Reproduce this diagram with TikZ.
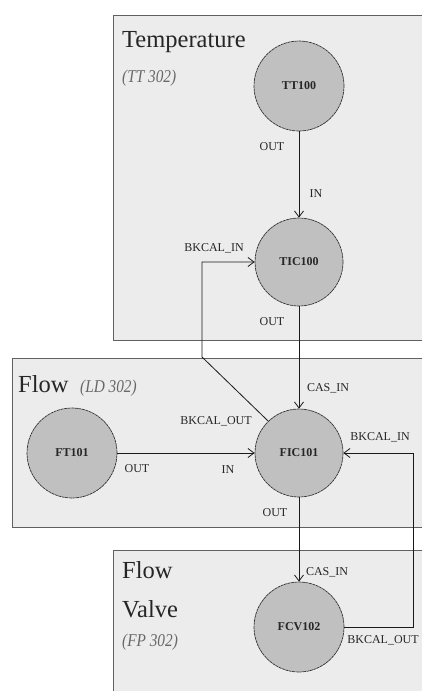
\documentclass[tikz,border=0pt]{standalone}
\usepackage{fontspec}
\setmainfont{Liberation Serif}
\usetikzlibrary{arrows.meta}
\definecolor{boxfill}{HTML}{ECECEC}
\definecolor{boxline}{HTML}{606060}
\definecolor{circfill}{HTML}{C0C0C0}
\definecolor{titlecol}{HTML}{262626}
\definecolor{subcol}{HTML}{686868}
\tikzset{
  group/.style={draw=boxline, fill=boxfill, line width=0.9pt},
  block/.style={circle, draw=black!80, fill=circfill, line width=0.7pt, dash pattern=on 3pt off 0.6pt, minimum size=90pt, inner sep=0pt, font=\fontsize{12}{13}\selectfont\bfseries, text=black!85},
  title/.style={anchor=base west, inner sep=0pt, text=titlecol, font=\fontsize{24.5}{26}\selectfont},
  subtitle/.style={anchor=base west, inner sep=0pt, text=subcol, font=\fontsize{18}{19}\selectfont\itshape\addfontfeature{FakeStretch=0.85}},
  port/.style={inner sep=0pt, text=black!85, font=\fontsize{12}{13}\selectfont},
  link/.style={draw=black!90, line width=0.8pt, -{Straight Barb[length=6pt,width=9pt]}},
}
\begin{document}
\begin{tikzpicture}[x=1pt,y=-1pt]
\useasboundingbox (0,0) rectangle (422,691);
\clip (0,0) rectangle (422,691);
\fill[white] (0,0) rectangle (422,691);
% groups
\draw[group] (113,15) rectangle (430,340);
\draw[group] (12,358) rectangle (430,527);
\draw[group] (113,550) rectangle (430,700);
% titles
\node[title] (tTemp) at (122,47) {Temperature};
\node[subtitle] (sTemp) at (122,82) {(TT 302)};
\node[title] (tFlow) at (18,392) {Flow};
\node[subtitle] (sFlow) at (80,392) {(LD 302)};
\node[title] (tFlowV1) at (122,578) {Flow};
\node[title] (tFlowV2) at (122,617) {Valve};
\node[subtitle] (sFlowV) at (122,646) {(FP 302)};
% blocks
\node[block] (TT100) at (299,86) {TT100};
\node[block, minimum size=88pt] (TIC100) at (299,262) {TIC100};
\node[block] (FT101) at (72,453) {FT101};
\node[block, minimum size=88pt] (FIC101) at (299,453) {FIC101};
\node[block] (FCV102) at (299,627) {FCV102};
% helper coordinates
\coordinate (b1) at (202,357);
\coordinate (b2) at (413,627);
% links
\draw[link] (TT100.south) -- (TIC100.north);
\draw[link] (TIC100.south) -- (FIC101.north);
\draw[link] (FT101.east) -- (FIC101.west);
\draw[link] (FIC101.south) -- (FCV102.north);
\draw[link] (FIC101.134) -- (b1) |- (TIC100.west);
\draw[link] (FCV102.east) -- (b2) |- (FIC101.east);
% port labels
\node[port] (p1) at (272,147) {OUT};
\node[port] (p2) at (316,194) {IN};
\node[port] (p3) at (214,248) {BKCAL\_IN};
\node[port] (p4) at (272,322) {OUT};
\node[port] (p5) at (328,388) {CAS\_IN};
\node[port] (p6) at (216,421) {BKCAL\_OUT};
\node[port] (p7) at (380,437) {BKCAL\_IN};
\node[port] (p8) at (137,469) {OUT};
\node[port] (p9) at (228,470) {IN};
\node[port] (p10) at (275,513) {OUT};
\node[port] (p11) at (327,572) {CAS\_IN};
\node[port] (p12) at (383,640) {BKCAL\_OUT};
\end{tikzpicture}
\end{document}
